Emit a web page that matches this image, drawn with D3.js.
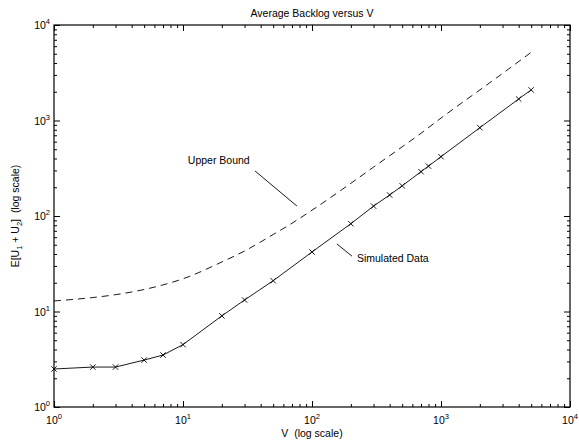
<!DOCTYPE html>
<html>
<head>
<meta charset="utf-8">
<script src="https://cdn.jsdelivr.net/npm/d3@7"></script>
<style>
  body { margin: 0; background: #fff; }
  svg { font-family: "Liberation Sans", Arial, Helvetica, sans-serif; }
  text { white-space: pre; }
</style>
</head>
<body>
<svg width="579" height="442"></svg>
<script>
// simulated data (x markers)
var simV = [1, 2, 3, 5, 7, 10, 20, 30, 50, 100, 200, 300, 400, 500, 700, 800, 1000, 2000, 4000, 5000];
var simBacklog = [2.5, 2.62, 2.62, 3.1, 3.5, 4.5, 9, 13.2, 21, 42, 83, 127, 166, 207, 291, 333, 418, 841, 1680, 2090];

// upper bound (dashed)
var boundV = [1, 2, 3, 5, 7, 10, 20, 30, 50, 70, 100, 200, 300, 500, 700, 1000, 2000, 3000, 5000];
var boundBacklog = [12.9, 14, 15, 17, 19, 22, 33, 43, 64, 84, 115, 220, 325, 530, 735, 1060, 2090, 3110, 5180];

var decades = [1, 10, 100, 1000, 10000];
var exponents = ['0', '1', '2', '3', '4'];

var svg = d3.select('svg');
var plotLeft = 54, plotRight = 570, plotTop = 25, plotBottom = 407;

var x = d3.scaleLog().domain([1, 10000]).range([plotLeft, plotRight]);
var y = d3.scaleLog().domain([1, 10000]).range([plotBottom, plotTop]);

// minor ticks 2..9 in each decade
var minor = [];
decades.slice(0, 4).forEach(function(d) {
    for (var k = 2; k <= 9; k++) minor.push(d * k);
});

function drawAxis(axisFn, scale, pos, size, values) {
    return svg.append('g')
        .attr('transform', pos)
        .call(axisFn(scale).tickValues(values).tickSizeInner(size).tickSizeOuter(0).tickFormat(''))
        .call(function(g) {
            g.select('.domain').remove();
            g.selectAll('line').attr('stroke', '#000');
        });
}

// ticks point inward on all four sides
drawAxis(d3.axisBottom, x, 'translate(0,' + plotBottom + ')', -3, minor);
drawAxis(d3.axisBottom, x, 'translate(0,' + plotBottom + ')', -6, decades);
drawAxis(d3.axisTop, x, 'translate(0,' + plotTop + ')', -3, minor);
drawAxis(d3.axisTop, x, 'translate(0,' + plotTop + ')', -6, decades);
drawAxis(d3.axisLeft, y, 'translate(' + plotLeft + ',0)', -3, minor);
drawAxis(d3.axisLeft, y, 'translate(' + plotLeft + ',0)', -6, decades);
drawAxis(d3.axisRight, y, 'translate(' + plotRight + ',0)', -3, minor);
drawAxis(d3.axisRight, y, 'translate(' + plotRight + ',0)', -6, decades);

// box
svg.append('rect')
    .attr('x', plotLeft).attr('y', plotTop)
    .attr('width', plotRight - plotLeft).attr('height', plotBottom - plotTop)
    .attr('fill', 'none').attr('stroke', '#000').attr('stroke-width', 1.2);

// x tick labels
var xl = svg.append('g').selectAll('text')
    .data(decades)
    .join('text')
    .attr('x', function(d) { return x(d); })
    .attr('y', 424)
    .attr('text-anchor', 'middle')
    .attr('font-size', 10.5);
xl.append('tspan').text('10');
xl.append('tspan').attr('dy', -5).attr('font-size', 7.5)
    .text(function(d, i) { return exponents[i]; });

// y tick labels
var yl = svg.append('g').selectAll('text')
    .data(decades)
    .join('text')
    .attr('x', 50)
    .attr('y', function(d) { return y(d) + 4; })
    .attr('text-anchor', 'end')
    .attr('font-size', 10.5);
yl.append('tspan').text('10');
yl.append('tspan').attr('dy', -5).attr('font-size', 7.5)
    .text(function(d, i) { return exponents[i]; });

// title and axis labels
svg.append('text')
    .attr('x', (plotLeft + plotRight) / 2).attr('y', 17)
    .attr('text-anchor', 'middle').attr('font-size', 10.5)
    .text('Average Backlog versus V');

svg.append('text')
    .attr('x', (plotLeft + plotRight) / 2).attr('y', 437)
    .attr('text-anchor', 'middle').attr('font-size', 10.5)
    .text('V  (log scale)');

var ylab = svg.append('text')
    .attr('transform', 'translate(19,' + (plotTop + plotBottom) / 2 + ') rotate(-90)')
    .attr('text-anchor', 'middle').attr('font-size', 10.5);
ylab.append('tspan').text('E[U');
ylab.append('tspan').attr('dy', 3).attr('font-size', 7.5).text('1');
ylab.append('tspan').attr('dy', -3).text(' + U');
ylab.append('tspan').attr('dy', 3).attr('font-size', 7.5).text('2');
ylab.append('tspan').attr('dy', -3).text(']  (log scale)');

// lines
var line = d3.line()
    .x(function(d) { return x(d[0]); })
    .y(function(d) { return y(d[1]); });

svg.append('path')
    .datum(d3.zip(boundV, boundBacklog))
    .attr('d', line.curve(d3.curveMonotoneX))
    .attr('fill', 'none').attr('stroke', '#000').attr('stroke-width', 0.9)
    .attr('stroke-dasharray', '7,5');

var simPts = d3.zip(simV, simBacklog);
svg.append('path')
    .datum(simPts)
    .attr('d', line.curve(d3.curveLinear))
    .attr('fill', 'none').attr('stroke', '#000').attr('stroke-width', 0.9);

var s = 2.7;
svg.append('g').selectAll('path')
    .data(simPts)
    .join('path')
    .attr('d', function(d) {
        var cx = x(d[0]), cy = y(d[1]);
        return 'M' + (cx - s) + ',' + (cy - s) + 'L' + (cx + s) + ',' + (cy + s) +
               'M' + (cx - s) + ',' + (cy + s) + 'L' + (cx + s) + ',' + (cy - s);
    })
    .attr('stroke', '#000').attr('stroke-width', 0.9);

// annotations (data coordinates)
var notes = [
    { text: 'Upper Bound', tx: 10.9, ty: 350, from: [36.2, 296], to: [76.5, 127] },
    { text: 'Simulated Data', tx: 223, ty: 33, from: [156, 51], to: [204, 38] }
];

notes.forEach(function(n) {
    svg.append('text')
        .attr('x', x(n.tx)).attr('y', y(n.ty))
        .attr('font-size', 10.5)
        .text(n.text);
    svg.append('line')
        .attr('x1', x(n.from[0])).attr('y1', y(n.from[1]))
        .attr('x2', x(n.to[0])).attr('y2', y(n.to[1]))
        .attr('stroke', '#000').attr('stroke-width', 0.9);
});
</script>
</body>
</html>
